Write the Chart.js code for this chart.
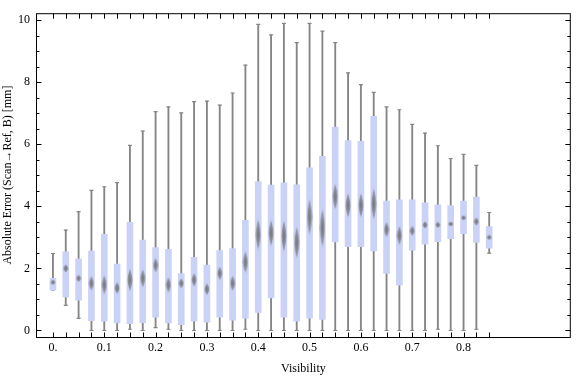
<!DOCTYPE html>
<html>
<head>
<meta charset="utf-8">
<script src="https://cdn.jsdelivr.net/npm/chart.js@4.4.1/dist/chart.umd.min.js"></script>
<style>
  body { margin: 0; background: #fff; }
  #wrap { width: 576px; height: 377px; }
</style>
</head>
<body>
<div id="wrap"><canvas id="boxChart"></canvas></div>
<script>
// visibility bins (one box per bin)
const visibility = [0, 0.025, 0.05, 0.075, 0.1, 0.125, 0.15, 0.175, 0.2, 0.225, 0.25, 0.275,
    0.3, 0.325, 0.35, 0.375, 0.4, 0.425, 0.45, 0.475, 0.5, 0.525, 0.55, 0.575, 0.6, 0.625,
    0.65, 0.675, 0.7, 0.725, 0.75, 0.775, 0.8, 0.825, 0.85];
// whisker ends and quartiles [mm]
const whiskerLow = [1.31, 0.81, 0.39, 0, 0, 0, 0.04, 0, 0.09, 0.04, 0, 0,
    0, 0, 0, 0.04, 0, 0, 0, 0, 0, 0, 0, 0, 0, 0,
    0, 0, 0, 0, 0.04, 0, 0, 0.04, 2.49];
const q1 = [1.31, 1.08, 0.98, 0.32, 0.30, 0.24, 0.22, 0.25, 0.43, 0.24, 0.19, 0.30,
    0.27, 0.43, 0.33, 0.40, 0.58, 1.05, 0.43, 0.30, 0.40, 0.36, 2.85, 2.70, 2.70, 2.56,
    1.84, 1.46, 2.59, 2.78, 2.86, 2.96, 3.12, 2.84, 2.65];
const median = [1.55, 2.0, 1.68, 1.52, 1.47, 1.37, 1.63, 1.68, 2.10, 1.47, 1.52, 1.63,
    1.33, 1.84, 1.52, 2.20, 3.09, 3.14, 3.04, 2.83, 3.66, 3.30, 4.31, 4.03, 4.03, 4.08,
    3.25, 3.06, 3.21, 3.40, 3.40, 3.43, 3.63, 3.51, 3.00];
const q3 = [1.68, 2.53, 2.31, 2.56, 3.10, 2.14, 3.48, 2.91, 2.67, 2.61, 1.83, 2.36,
    2.11, 2.57, 2.64, 3.55, 4.80, 4.68, 4.76, 4.69, 5.24, 5.61, 6.55, 6.12, 6.09, 6.90,
    4.17, 4.21, 4.21, 4.11, 4.05, 4.02, 4.17, 4.30, 3.35];
const whiskerHigh = [2.48, 3.23, 3.83, 4.51, 4.63, 4.76, 5.96, 6.42, 7.05, 7.20, 7.01, 7.37,
    7.39, 7.26, 7.65, 8.55, 9.86, 9.52, 9.89, 9.27, 9.89, 9.64, 9.27, 8.30, 7.92, 7.67,
    7.20, 7.11, 6.64, 6.36, 5.95, 5.54, 5.67, 5.32, 3.80];

const xTickValues = [0, 0.1, 0.2, 0.3, 0.4, 0.5, 0.6, 0.7, 0.8];
const xTickLabels = ["0.", "0.1", "0.2", "0.3", "0.4", "0.5", "0.6", "0.7", "0.8"];
const yTickValues = [0, 2, 4, 6, 8, 10];

const FONT = "'Liberation Serif', 'Times New Roman', serif";
const BOX = "rgb(203, 210, 247)";
const GREY = "#858585";

// blurred diamond used as median marker
const markerCache = {};
function medianMarker(h) {
    h = Math.max(6, Math.round(h));
    if (markerCache[h]) return markerCache[h];
    const c = document.createElement("canvas");
    c.width = 6;
    c.height = h;
    const g = c.getContext("2d");
    g.translate(3, h / 2);
    g.scale(1, h / 6);
    const grad = g.createRadialGradient(0, 0, 0, 0, 0, 3);
    grad.addColorStop(0, "rgba(112,112,112,1)");
    grad.addColorStop(0.7, "rgba(130,130,140,0.7)");
    grad.addColorStop(1, "rgba(170,175,200,0.1)");
    g.fillStyle = grad;
    g.beginPath();
    g.moveTo(0, -3);
    g.lineTo(3, 0);
    g.lineTo(0, 3);
    g.lineTo(-3, 0);
    g.closePath();
    g.fill();
    markerCache[h] = c;
    return c;
}

// frame and inward ticks, Mathematica style
const framePlugin = {
    id: "frame",
    afterDraw(chart) {
        const { ctx, chartArea: a, scales } = chart;
        const L = a.left + 0.5, R = a.right - 0.5, T = a.top + 0.5, B = a.bottom + 0.5;
        ctx.save();
        ctx.strokeStyle = "#000";
        ctx.lineWidth = 1;
        ctx.beginPath();
        visibility.forEach(v => {
            const x = Math.round(scales.x.getPixelForValue(v)) + 0.5;
            ctx.moveTo(x, B); ctx.lineTo(x, B - 5);
            ctx.moveTo(x, T); ctx.lineTo(x, T + 5);
        });
        for (let v = 0; v <= 10; v += 0.5) {
            const y = Math.round(scales.y.getPixelForValue(v)) + 0.5;
            const len = v % 2 === 0 ? 5 : 3;
            ctx.moveTo(L, y); ctx.lineTo(L + len, y);
            ctx.moveTo(R, y); ctx.lineTo(R - len, y);
        }
        ctx.stroke();
        ctx.strokeRect(L, T, R - L, B - T);
        ctx.restore();
    }
};

const ctx = document.getElementById("boxChart").getContext("2d");
new Chart(ctx, {
    type: "bar",
    data: {
        datasets: [
            {
                type: "scatter",
                label: "median",
                data: visibility.map((x, i) => ({ x, y: median[i] })),
                pointStyle: c => medianMarker(9 * (q3[c.dataIndex] - q1[c.dataIndex]) - 4),
                pointRadius: 3,
                order: 0,
            },
            {
                label: "box",
                data: visibility.map((x, i) => ({ x, y: [q1[i], q3[i]] })),
                backgroundColor: BOX,
                barThickness: 6,
                grouped: false,
                order: 1,
            },
            {
                type: "scatter",
                label: "caps",
                data: visibility.flatMap((x, i) => [{ x, y: whiskerLow[i] }, { x, y: whiskerHigh[i] }]),
                pointStyle: "line",
                pointRadius: 2,
                borderColor: GREY,
                borderWidth: 1.2,
                order: 2,
            },
            {
                label: "whisker",
                data: visibility.map((x, i) => ({ x, y: [whiskerLow[i], whiskerHigh[i]] })),
                backgroundColor: GREY,
                barThickness: 1.2,
                grouped: false,
                order: 3,
            },
        ],
    },
    options: {
        responsive: true,
        maintainAspectRatio: false,
        animation: false,
        layout: { padding: { top: 4, right: 0, left: 0, bottom: 0 } },
        plugins: { legend: { display: false }, tooltip: { enabled: false } },
        scales: {
            x: {
                type: "linear",
                min: -0.033,
                max: 1.009,
                offset: false,
                grid: { display: false, drawTicks: false, offset: false },
                border: { display: false },
                afterBuildTicks: s => { s.ticks = xTickValues.map(v => ({ value: v })); },
                afterFit: s => { s.height = 40; },
                ticks: {
                    autoSkip: false,
                    maxRotation: 0,
                    padding: 4,
                    color: "#000",
                    font: { family: FONT, size: 12 },
                    callback: (v, i) => xTickLabels[i],
                },
                title: {
                    display: true,
                    text: "Visibility",
                    color: "#000",
                    font: { family: FONT, size: 12 },
                    padding: { top: 0, bottom: 1 },
                },
            },
            y: {
                min: -0.21,
                max: 10.22,
                grid: { display: false, drawTicks: false },
                border: { display: false },
                afterBuildTicks: s => { s.ticks = yTickValues.map(v => ({ value: v })); },
                afterFit: s => { s.width = 36; },
                ticks: {
                    padding: 6,
                    color: "#000",
                    font: { family: FONT, size: 12 },
                },
                title: {
                    display: true,
                    text: "Absolute Error (Scan\u2192Ref, B) [mm]",
                    color: "#000",
                    font: { family: FONT, size: 12 },
                    padding: { top: 1, bottom: 0 },
                },
            },
        },
    },
    plugins: [framePlugin],
});
</script>
</body>
</html>
